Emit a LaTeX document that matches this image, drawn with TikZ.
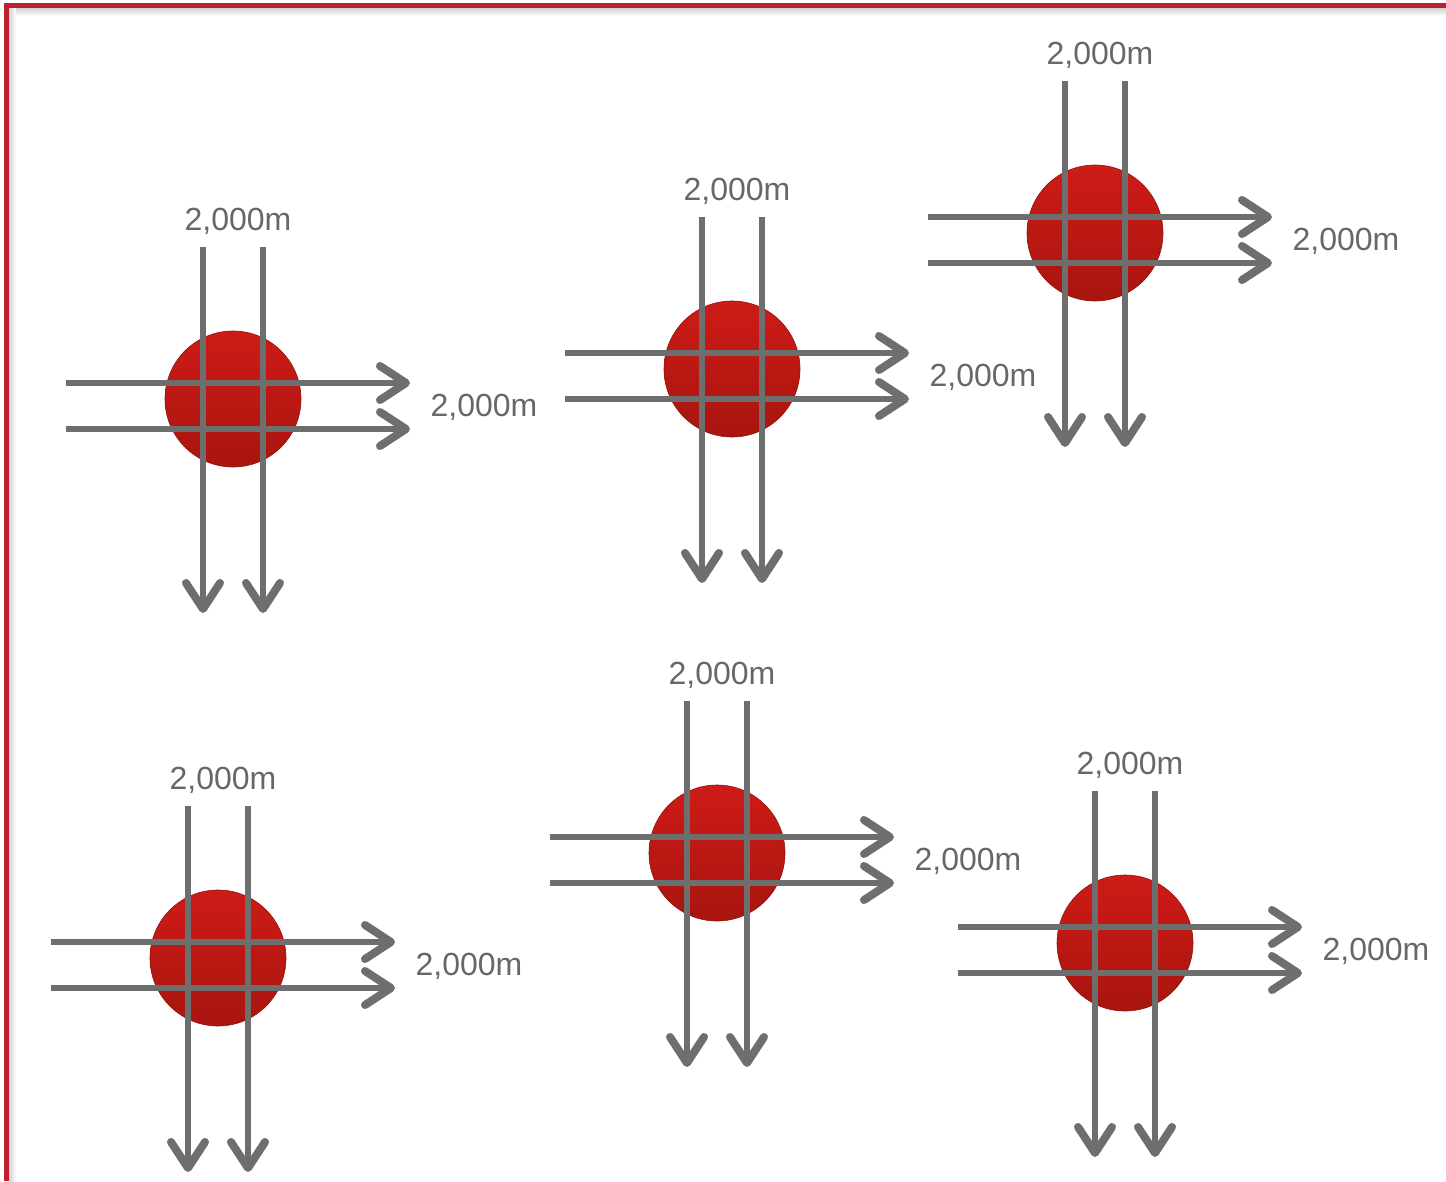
\documentclass[tikz,border=0pt]{standalone}
\usepackage{fontspec}
\setmainfont{Liberation Sans}
\usetikzlibrary{arrows.meta}
\definecolor{bred}{HTML}{BE1E2D}
\definecolor{lgray}{HTML}{6D6E6E}
\definecolor{tgray}{HTML}{676767}
\definecolor{ctop}{HTML}{CE1B17}
\definecolor{cbot}{HTML}{A8150F}
\tikzset{
  hub/.style={circle, minimum size=136pt, inner sep=0pt, top color=ctop, bottom color=cbot, draw=cbot!85!black, line width=0.6pt},
  flow/.style={draw=lgray, line width=6pt, -{Straight Barb[length=26pt, width=34pt, line width=8pt, round]}},
  lbl/.style={text=tgray, inner sep=0pt, anchor=base, font=\fontsize{32}{38}\selectfont},
  frame/.style={draw=bred, line width=5pt}
}
\begin{document}
\begin{tikzpicture}[x=1pt,y=-1pt]
\useasboundingbox (0,0) rectangle (1446,1181);
% frame shadows
\shade[top color=black!18, bottom color=white] (9,8) rectangle (1446,16);
\shade[left color=black!18, right color=white] (9,8) rectangle (16,1181);
% frame
\coordinate (ftl) at (6.5,5.5);
\coordinate (ftr) at (1446,5.5);
\coordinate (fbl) at (6.5,1181);
\draw[frame] (ftr) -- (ftl) -- (fbl);
\foreach \n/\cx/\cy in {1/233/399, 2/732/369, 3/1095/233, 4/218/958, 5/717/853, 6/1125/943} {
  \node[hub] (c\n) at (\cx,\cy) {};
  \coordinate (vas\n) at (\cx-30,\cy-152);
  \coordinate (vae\n) at (\cx-30,\cy+214);
  \coordinate (vbs\n) at (\cx+30,\cy-152);
  \coordinate (vbe\n) at (\cx+30,\cy+214);
  \coordinate (has\n) at (\cx-167,\cy-16);
  \coordinate (hae\n) at (\cx+177,\cy-16);
  \coordinate (hbs\n) at (\cx-167,\cy+30);
  \coordinate (hbe\n) at (\cx+177,\cy+30);
  \draw[flow] (vas\n) -- (vae\n);
  \draw[flow] (vbs\n) -- (vbe\n);
  \draw[flow] (has\n) -- (hae\n);
  \draw[flow] (hbs\n) -- (hbe\n);
  \node[lbl] (lt\n) at (\cx+5,\cy-169) {2,000m};
  \node[lbl] (lr\n) at (\cx+251,\cy+17) {2,000m};
}
\end{tikzpicture}
\end{document}
